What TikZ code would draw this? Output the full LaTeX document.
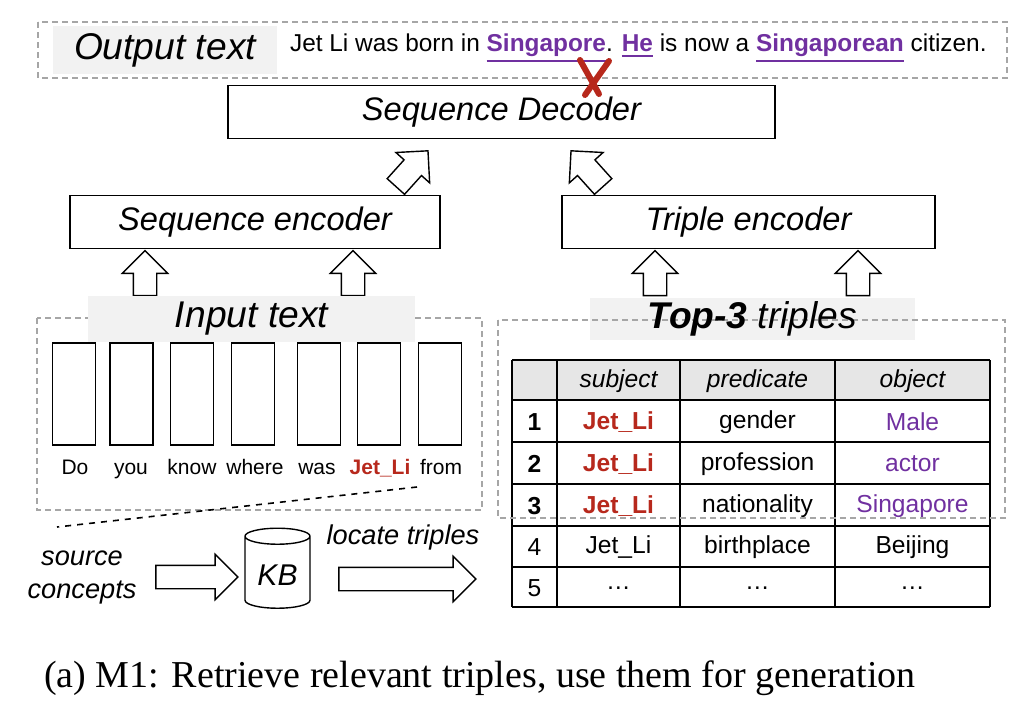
\documentclass[tikz,border=0pt]{standalone}
\usepackage{fontspec}
\setmainfont{Liberation Serif}
\setsansfont{Liberation Sans}
\usepackage{xcolor}
\usetikzlibrary{shapes,arrows,positioning,calc}

\definecolor{dashgray}{HTML}{A6A6A6}
\definecolor{labelgray}{HTML}{F2F2F2}
\definecolor{headgray}{HTML}{E6E6E6}
\definecolor{kbred}{HTML}{B7281C}
\definecolor{kbpurple}{HTML}{7030A0}

\newcommand{\ent}[1]{\textcolor{kbred}{\textbf{#1}}}
\newcommand{\obj}[1]{\textcolor{kbpurple}{#1}}
\newcommand{\refword}[1]{\textcolor{kbpurple}{\vtop{\hbox{\textbf{#1}}\kern1.2pt\hrule height 1.1pt}}}

\begin{document}
\begin{tikzpicture}[
    x=0.5pt, y=-0.5pt,
    font=\sffamily,
    block/.style={rectangle, draw, line width=0.8pt, minimum height=26.5pt, font=\sffamily\itshape\fontsize{16.3}{19}\selectfont},
    labelbox/.style={rectangle, fill=labelgray, minimum height=21pt, font=\sffamily\itshape\fontsize{18.6}{22}\selectfont},
    dashbox/.style={draw=dashgray, line width=0.8pt, dash pattern=on 3pt off 2pt},
    token/.style={rectangle, draw, line width=0.8pt, minimum width=21.5pt, minimum height=51pt},
    word/.style={anchor=base, font=\sffamily\fontsize{10.5}{12}\selectfont},
    fat/.style={single arrow, draw, line width=0.7pt, fill=white, inner xsep=0pt, inner ysep=5.5pt, minimum width=22pt, single arrow head extend=5.5pt, single arrow head indent=0pt},
    cell/.style={font=\sffamily\fontsize{12.3}{14}\selectfont},
    note/.style={align=center, font=\sffamily\itshape\fontsize{13.6}{16.5}\selectfont}
]
\useasboundingbox (0,0) rectangle (1024,712);

\draw[dashbox] (38,22) rectangle (1007,78);
\node[labelbox, minimum width=112pt] (outlbl) at (165,50) {Output text};
\node[anchor=west, font=\sffamily\fontsize{12.2}{14}\selectfont] (outtxt) at (283,48) {Jet Li was born in \refword{Singapore}. \refword{He} is now a \refword{Singaporean} citizen.};

\node[block, minimum width=273.5pt] (dec) at (501.5,112) {Sequence Decoder};
\coordinate (cross) at (594,76);
\draw[kbred, line width=3pt, line cap=round] ($(cross)+(-14,-16)$) -- ($(cross)+(5,18)$);
\draw[kbred, line width=3pt, line cap=round] ($(cross)+(15,-15)$) -- ($(cross)+(-9,19)$);

\node[block, minimum width=185pt] (senc) at (255,222) {Sequence encoder};
\node[block, minimum width=186.5pt] (tenc) at (748.5,222) {Triple encoder};

\node[fat, rotate=48, minimum height=24pt] (up5) at (408,173) {};
\node[fat, rotate=132, minimum height=24pt] (up6) at (591,173) {};

\foreach \x [count=\i] in {145,353,655,858}
    \node[fat, rotate=90, minimum height=22.5pt] (up\i) at (\x,279) {};

\draw[dashbox] (37,318) rectangle (482,510);
\node[labelbox, minimum width=163.5pt] (inlbl) at (251.5,319) {Input text};

\foreach \x [count=\i] in {74,131.5,192,253,319,379,440}
    \node[token] (t\i) at (\x,394) {};
\foreach \x/\w [count=\i] in {75/Do,131/you,192/know,255/where,317/was,380/{\ent{Jet\_Li}},441/from}
    \node[word] (w\i) at (\x,474) {\w};

\node[note] (src) at (82,577) {source\\concepts};
\coordinate (jl) at (417,487);
\coordinate (srctop) at (57,527);
\draw[dashed, line width=0.8pt] (jl) -- (srctop);

\node[fat, minimum height=41pt] (a1) at (191,577) {};
\node[cylinder, shape border rotate=90, draw, line width=0.7pt, aspect=0.3, minimum width=32.5pt, minimum height=40pt, font=\sffamily\itshape\fontsize{15}{18}\selectfont] (kb) at (277.5,575) {KB};
\node[fat, minimum height=68.5pt] (a2) at (401.5,579) {};
\node[note] (loc) at (403,537) {locate triples};

\fill[labelgray] (590,298) rectangle (915,340);
\fill[headgray] (512,360) rectangle (990,400);
\foreach \x in {512,557,680,835,990}
    \draw[line width=1.2pt] (\x,360) -- (\x,607);
\foreach \y in {360,400,442,484,526,567,607}
    \draw[line width=1.2pt] (512,\y) -- (990,\y);

\node[cell, font=\sffamily\itshape\fontsize{12.3}{14}\selectfont] (hs) at (618.5,381) {subject};
\node[cell, font=\sffamily\itshape\fontsize{12.3}{14}\selectfont] (hp) at (757.5,381) {predicate};
\node[cell, font=\sffamily\itshape\fontsize{12.3}{14}\selectfont] (ho) at (912.5,381) {object};

\foreach \y/\p/\o [count=\i] in {422/gender/Male,464/profession/actor,506/nationality/Singapore} {
    \node[cell] (n\i) at (534.5,\y) {\textbf{\i}};
    \node[cell] (s\i) at (618.5,\y) {\ent{Jet\_Li}};
    \node[cell] (p\i) at (757.5,\y) {\p};
    \node[cell] (o\i) at (912.5,\y) {\obj{\o}};
}
\node[cell] (n4) at (534.5,547.5) {4};
\node[cell] (s4) at (618.5,547.5) {Jet\_Li};
\node[cell] (p4) at (757.5,547.5) {birthplace};
\node[cell] (o4) at (912.5,547.5) {Beijing};
\node[cell] (n5) at (534.5,588) {5};
\node[cell] (s5) at (618.5,588) {\dots};
\node[cell] (p5) at (757.5,588) {\dots};
\node[cell] (o5) at (912.5,588) {\dots};

\draw[dashbox] (498,320) rectangle (1005,518);
\node[labelbox, fill=none, minimum width=162.5pt] (toplbl) at (752.5,319) {\textbf{Top-3} triples};

\node[font=\rmfamily\fontsize{19}{22}\selectfont] (cap) at (480,678) {(a) M1: Retrieve relevant triples, use them for generation};
\end{tikzpicture}
\end{document}
